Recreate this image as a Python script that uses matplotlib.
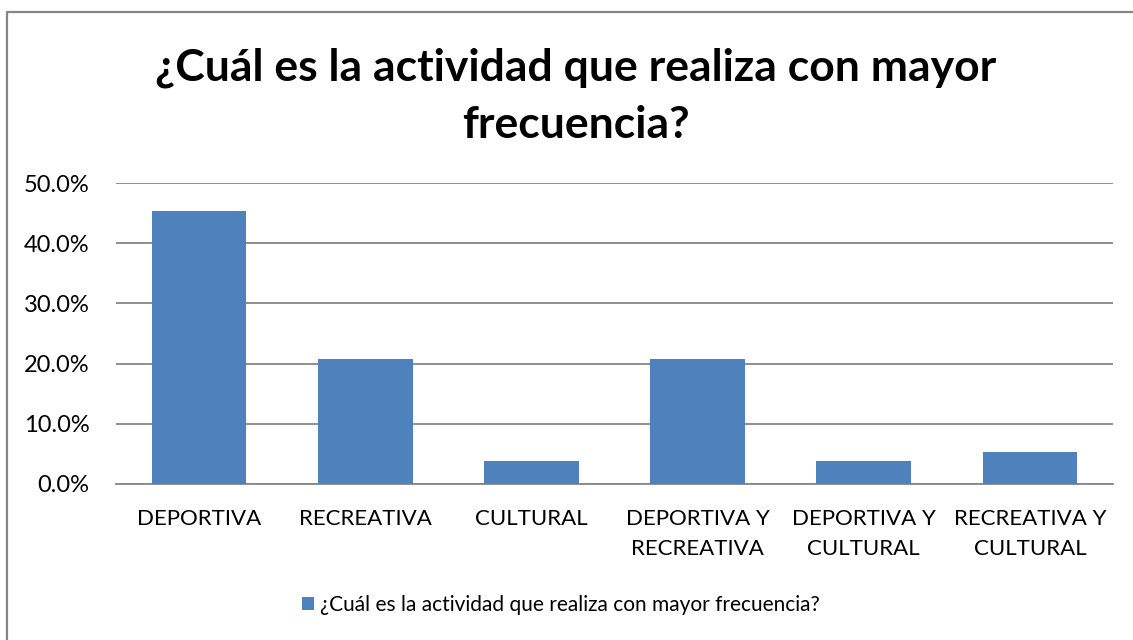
import matplotlib
matplotlib.use("Agg")
from matplotlib import pyplot as plt
from matplotlib.lines import Line2D
from matplotlib.ticker import FuncFormatter

categorias = ["DEPORTIVA", "RECREATIVA", "CULTURAL", "DEPORTIVA Y\nRECREATIVA",
              "DEPORTIVA Y\nCULTURAL", "RECREATIVA Y\nCULTURAL"]
porcentajes = [45.3, 20.7, 3.8, 20.7, 3.8, 5.3]
serie = "¿Cuál es la actividad que realiza con mayor frecuencia?"
titulo = "¿Cuál es la actividad que realiza con mayor\nfrecuencia?"
y_ticks = [0, 10, 20, 30, 40, 50]

plt.rcParams['font.family'] = ['Lato', 'DejaVu Sans']

fig = plt.figure(figsize=(11.33, 6.4), dpi=100)
ax = fig.add_axes([116 / 1133, 1 - 484 / 640, 997 / 1133, 301 / 640])

ax.bar(range(len(categorias)), porcentajes, width=0.57, color='#4f81bd', label=serie, zorder=3)

ax.set_xlim(-0.5, len(categorias) - 0.5)
ax.set_ylim(0, 50)
ax.set_yticks(y_ticks)
ax.yaxis.set_major_formatter(FuncFormatter(lambda v, p: f"{v:.1f}%"))
ax.set_xticks(range(len(categorias)))
ax.set_xticklabels(categorias, fontsize=16, linespacing=1.6)
ax.tick_params(axis='y', labelsize=17, length=0, pad=19)
ax.tick_params(axis='x', length=0, pad=18)
ax.grid(axis='y', color='#868686', linewidth=1.3, zorder=0)
for s in ['top', 'right', 'left']:
    ax.spines[s].set_visible(False)
ax.spines['bottom'].set_color('#868686')
ax.spines['bottom'].set_linewidth(1.3)

fig.text(0.508, 1 - 96 / 640, titulo, ha='center', va='center', fontsize=32,
         fontweight='bold', linespacing=1.5)

fig.legend(loc='center', bbox_to_anchor=(0.495, 1 - 605 / 640), frameon=False,
           fontsize=15, handlelength=0.55, handleheight=0.55, handletextpad=0.3)

# marco del gráfico (solo borde izquierdo y superior visibles)
fig.lines.append(Line2D([7 / 1133, 7 / 1133, 1.0], [0.0, 1 - 12 / 640, 1 - 12 / 640],
                        transform=fig.transFigure, color='#868686', linewidth=1.6))

plt.savefig('out.png')
